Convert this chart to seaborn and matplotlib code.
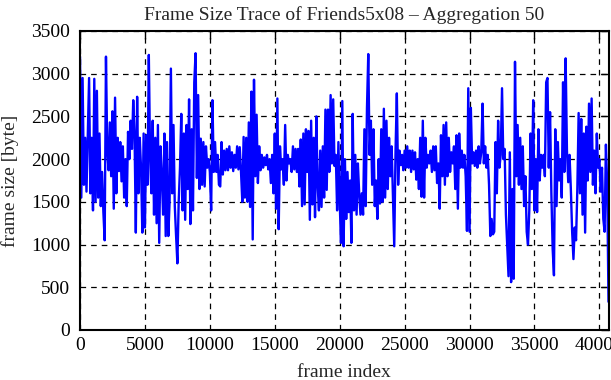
import numpy as np
import pandas as pd
import matplotlib
matplotlib.use("Agg")
import matplotlib.pyplot as plt
import seaborn as sns

# Frame size trace values (byte), aggregated; one value per 100 frames
seg1 = [3200,1550,2950,1700,2250,1620,2300,2950,1600,2250,
        1400,2940,1500,2800,1550,2300,1450,1850,1380,1050,
        3200,2100,1870,2430,1800,2560,1420,2720,1600,2250,
        1860,2200,1740,2150,1550,2000,1450,2320,2000,2450,
        2120,2690,2300,1140,2730,1600,2250,1900,1140,2300,
        1200,2280,1700,3220]
seg2 = [2000,1600,2450,1350,2250,1250,2400,1020,2150,1800,
        1350,2300,1100,2200,1100,1500,3060,1600,2400,1450,
        1100,780,1500,1900,2530,1400,2300,1290,2400,1650,
        2700,1240,2350,1400,2900,3240,1780,2750,1650,2240,
        1700,2200,1680,2150,1900,2000,1850,1400,2690,1850,
        2200,1850,2050,1700]
seg3 = [1680,2200,1820,2100,1870,2120,1870,2150,1900,2080,
        1860,2050,1900,2150,1880,2140,1850,1500,2260,1550,
        2250,1500,2430,1440,2790,1060,2930,1800,2520,1720,
        2150,1870,2050,1900,2020,1930,2050,1880,2000,1720,
        2050,1600,2300,1420,2710,1180,2150,1880,2000,1700,
        2400,1750,2050,1950]
seg4 = [2000,1850,2150,1880,2120,1850,2120,1680,2230,1450,
        2300,1470,2350,1850,2330,1290,2450,1470,2250,1320,
        2500,1700,1400,2100,1440,2150,1550,2580,1640,2580,
        1850,2750,1950,2700,1920,2050,1400,2200,1500,1020,
        2680,980,2000,1300,1850,1380,1750,1020,2530,1400,
        2050,1350,1950,1600]
seg5 = [1350,1600,1350,2350,1450,2600,3230,2050,2450,1700,
        2350,1450,1750,1300,2000,1480,2350,1500,2590,1550,
        2450,1650,2250,1800,2150,1550,980,2100,2770,1700,
        2100,1930,2050,1870,2100,1900,2150,1900,2100,1850,
        2100,1880,2080,1760,2000,1650,2250,1560,2450,1550,
        2250,1900,2050,1950]
seg6 = [2100,1850,2150,1870,2150,1720,1950,1420,2280,1800,
        2400,1700,2430,1800,2250,1850,2080,1950,2150,1650,
        2280,1420,2300,1900,2100,1900,2050,1800,1160,2830,
        1150,2600,1950,2080,1920,2100,1900,2150,1950,2080,
        2650,1950,2150,1900,2050,1700,1100,1300,1120,1150,
        2200,1600,2450,1900]
seg7 = [2050,2830,2000,2120,1350,990,630,2080,560,1650,
        600,3140,1800,2400,1700,2250,1650,2150,1450,1800,
        1150,1000,1400,2300,1650,2690,1400,2000,1380,2350,
        1750,2050,1900,2050,1800,2900,2950,1900,2550,1600,
        950,640,2350,1450,2200,1750,2000,1550,2900,1850,
        3180,2100,1730,2050]
seg8 = [1650,1150,830,1200,1050,1650,2540,1600,2470,1350,
        2300,1140,2380,1750,2650,1850,2710,1700,2100,1600,
        2300,1900,2000,1620,1900,1300,1150,2170,1700,330]

frame_step = 100
sizes = seg1 + seg2 + seg3 + seg4 + seg5 + seg6 + seg7 + seg8
frames = [i * frame_step for i in range(len(sizes))]

x_ticks = [0, 5000, 10000, 15000, 20000, 25000, 30000, 35000, 40000]
y_ticks = [0, 500, 1000, 1500, 2000, 2500, 3000, 3500]

df = pd.DataFrame({"frame index": frames, "frame size [byte]": sizes})

sns.set_style("white")
plt.rcParams['font.family'] = ['Liberation Serif', 'DejaVu Serif']
plt.rcParams['font.size'] = 14

fig = plt.figure(figsize=(6.11, 3.80), dpi=100)
ax = fig.add_axes([80/611, 1-330/380, (608.5-80)/611, (330-31)/380])

sns.lineplot(data=df, x="frame index", y="frame size [byte]", ax=ax,
             color=(0, 0, 1), linewidth=1.7, zorder=3)

ax.set_xlim(0, 40700)
ax.set_ylim(0, 3500)
ax.set_xticks(x_ticks)
ax.set_yticks(y_ticks)
ax.set_xticklabels([str(t) for t in x_ticks])
ax.set_yticklabels([str(t) for t in y_ticks])
ax.grid(True, linestyle=(0, (4.5, 4)), color='black', linewidth=0.9, zorder=1)
ax.set_axisbelow(True)
ax.tick_params(direction='in', length=6, width=1, top=True, right=True,
               labelsize=14, colors='black')
ax.tick_params(axis='y', pad=7)
ax.tick_params(axis='x', pad=5)
for s in ax.spines.values():
    s.set_linewidth(1.5)
    s.set_color('black')
    s.set_zorder(5)

ax.set_title("Frame Size Trace of Friends5x08 \u2013 Aggregation 50", fontsize=14, pad=8)
ax.set_xlabel("frame index", fontsize=14, labelpad=7)
ax.set_ylabel("frame size [byte]", fontsize=14, labelpad=9)

fig.savefig("out.png", dpi=100)
